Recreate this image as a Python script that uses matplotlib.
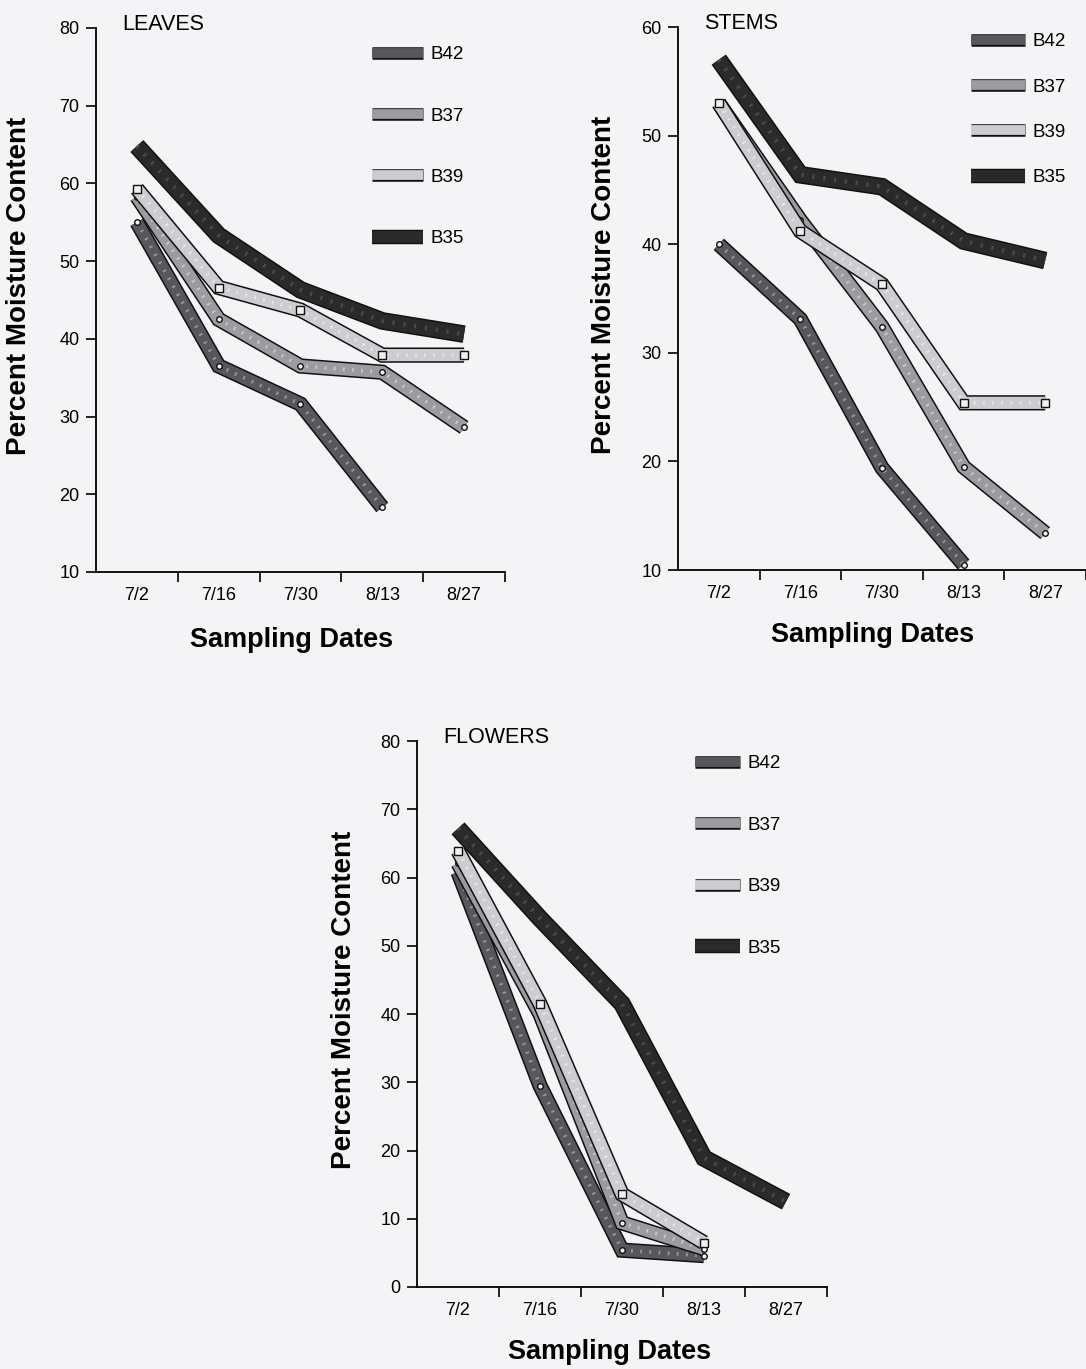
import matplotlib
matplotlib.use("Agg")
import matplotlib.pyplot as plt
import matplotlib.patheffects as pe
from matplotlib.lines import Line2D
import numpy as np

plt.rcParams['font.family'] = ['Liberation Sans', 'DejaVu Sans']

dates = ["7/2", "7/16", "7/30", "8/13", "8/27"]
series = ["B42", "B37", "B39", "B35"]
nan = np.nan

# percent moisture content
leaves_b42 = [55.0, 36.5, 31.6, 18.3, nan]
leaves_b37 = [58.3, 42.5, 36.5, 35.7, 28.6]
leaves_b39 = [59.3, 46.6, 43.7, 37.9, 37.9]
leaves_b35 = [64.8, 53.3, 46.3, 42.3, 40.6]

stems_b42 = [40.0, 33.1, 19.4, 10.5, nan]
stems_b37 = [53.0, 42.2, 32.4, 19.5, 13.4]
stems_b39 = [53.0, 41.2, 36.3, 25.4, 25.4]
stems_b35 = [57.0, 46.4, 45.3, 40.3, 38.5]

flowers_b42 = [60.8, 29.5, 5.4, 4.6, nan]
flowers_b37 = [62.1, 40.0, 9.4, 5.6, nan]
flowers_b39 = [63.9, 41.5, 13.6, 6.5, nan]
flowers_b35 = [67.2, 54.0, 41.5, 18.9, 12.5]

fills = {"B42": "#58585c", "B37": "#9c9ca0", "B39": "#cdcdd1", "B35": "#2a2a2c"}
dots = {"B42": "#d8d8d8", "B37": "#f4f4f4", "B39": "#ffffff", "B35": "#6a6a6a"}
widths = {"B42": 8.8, "B37": 8.8, "B39": 8.8, "B35": 10.5}
markers = {"B42": "o", "B37": "o", "B39": "s", "B35": None}
bg = "#f4f4f6"


def ribbon(ax, x, y, name, zorder):
    lw = widths[name]
    ax.plot(x, y, color=fills[name], lw=lw, solid_joinstyle="miter",
            solid_capstyle="butt", zorder=zorder,
            path_effects=[pe.Stroke(linewidth=lw + 2.2, foreground="#111111"),
                          pe.Normal()])
    # fine dotted texture inside the ribbon
    ax.plot(x, y, color=dots[name], lw=lw * 0.3, ls=(0, (0.5, 2.0)),
            alpha=0.5, zorder=zorder + 0.1)
    if markers[name]:
        ax.plot(x, y, ls="none", marker=markers[name],
                ms=6 if markers[name] == "s" else 4, mfc="#f0f0f0", mec="#111111",
                mew=1.0, zorder=zorder + 0.2)


def legend_handle(name):
    lw = widths[name] * 0.8
    return Line2D([0], [0], color=fills[name], lw=lw, solid_capstyle="butt",
                  path_effects=[pe.Stroke(linewidth=lw + 2, foreground="#111111"),
                                pe.Normal()])


def panel(rect, title, data, ylim, yticks, leg_xy, leg_space, hlen, label_pos):
    ax = fig.add_axes(rect)
    ax.set_facecolor(bg)
    x = np.arange(len(dates))
    z = 2
    for name in series:
        ribbon(ax, x, data[name], name, z)
        z += 1
    ax.set_xlim(-0.5, 4.5)
    ax.set_ylim(*ylim)
    ax.set_yticks(yticks)
    ax.set_xticks(np.arange(0.5, 5, 1.0))
    ax.set_xticklabels([])
    ax.set_xticks(x, minor=True)
    ax.set_xticklabels(dates, minor=True, fontsize=13)
    ax.tick_params(axis="x", which="minor", length=0, pad=11)
    ax.tick_params(axis="x", which="major", direction="out", length=7, width=1.2)
    ax.tick_params(axis="y", direction="out", length=7, width=1.2, labelsize=13, pad=5)
    for s in ["top", "right"]:
        ax.spines[s].set_visible(False)
    for s in ["left", "bottom"]:
        ax.spines[s].set_linewidth(1.3)
    ax.set_ylabel("Percent Moisture Content", fontsize=20, fontweight="bold")
    ax.set_xlabel("Sampling Dates", fontsize=19.5, fontweight="bold")
    ax.yaxis.set_label_coords(label_pos[0], 0.525)
    ax.xaxis.set_label_coords(label_pos[1], label_pos[2])
    ax.text(0.064, 1.006, title, transform=ax.transAxes, fontsize=15.5,
            ha="left", va="center")
    ax.legend([legend_handle(n) for n in series], series, loc="upper left",
              bbox_to_anchor=leg_xy, frameon=False, fontsize=13.5, borderpad=0,
              handlelength=hlen, handletextpad=0.4, labelspacing=leg_space)
    return ax


fig = plt.figure(figsize=(10.86, 13.69), dpi=100)
fig.patch.set_facecolor(bg)

panel([0.0884, 0.5822, 0.3766, 0.3974], "LEAVES",
      {"B42": leaves_b42, "B37": leaves_b37, "B39": leaves_b39, "B35": leaves_b35},
      (10, 80), range(10, 81, 10), (0.652, 0.984), 2.36, 2.7,
      (-0.156, 0.477, -0.101))

panel([0.6243, 0.5836, 0.3757, 0.3966], "STEMS",
      {"B42": stems_b42, "B37": stems_b37, "B39": stems_b39, "B35": stems_b35},
      (10, 60), range(10, 61, 10), (0.694, 1.006), 1.5, 2.9,
      (-0.15, 0.478, -0.096))

panel([0.384, 0.0599, 0.3775, 0.3988], "FLOWERS",
      {"B42": flowers_b42, "B37": flowers_b37, "B39": flowers_b39, "B35": flowers_b35},
      (0, 80), range(0, 81, 10), (0.656, 0.991), 2.36, 2.4,
      (-0.146, 0.47, -0.095))

fig.savefig("out.png", dpi=100, facecolor=fig.get_facecolor())
